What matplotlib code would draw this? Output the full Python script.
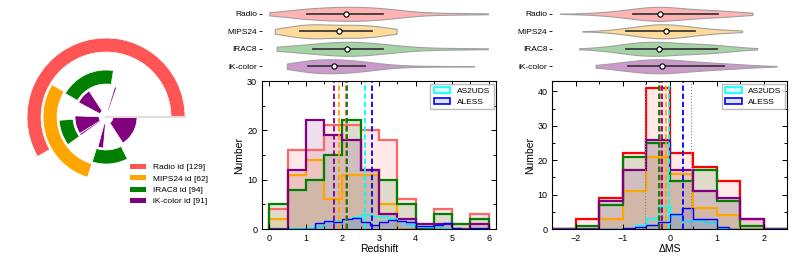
import numpy as np
import matplotlib
matplotlib.use('Agg')
import matplotlib.pyplot as plt
from matplotlib.ticker import MultipleLocator
from matplotlib.patches import Patch

plt.rcParams['font.family'] = ['Liberation Sans', 'DejaVu Sans']

# --- identifications -------------------------------------------------------
methods = ['Radio', 'MIPS24', 'IRAC8', 'iK-color']
n_ids = [129, 62, 94, 91]
line_colors = ['#ff5555', '#ffa500', '#008000', '#800080']
violin_fill = ['#ffb3b3', '#ffdb99', '#a6d3a6', '#cc99cc']

# angular segments (degrees) of each ring in the left diagram
radio_seg = [(0, 210)]
mips_seg = [(149, 253)]
irac_seg = [(81, 150), (184, 216), (253, 297)]
ik_seg = [(71, 73), (123, 152), (178, 212), (213.5, 215.5), (255, 265), (303, 360)]

# --- redshift --------------------------------------------------------------
z_edges = np.arange(0, 6.01, 0.5)
z_radio = [4, 16, 16, 21, 21, 20, 18, 6, 1, 4, 1, 3]
z_mips = [2, 11, 14, 6, 11, 11, 5, 0, 0, 0, 0, 0]
z_irac = [5, 8, 10, 15, 22, 12, 10, 5, 0, 3, 1, 2]
z_ik = [0, 12, 22, 19, 18, 12, 3, 2, 1, 1, 0, 1]

z_fine_edges = np.arange(0, 6.01, 0.25)
z_as2uds = [0.1, 0.1, 0.2, 0.2, 0.4, 0.7, 1.6, 1.8, 2.0, 2.5, 3.1, 2.6,
            2.7, 2.3, 1.7, 1.1, 0.7, 0.5, 0.4, 0.3, 0.2, 0.1, 0.1, 0.1]
z_aless = [0, 0, 0, 0, 0, 1.3, 1.6, 1.5, 2.0, 2.3, 1.5, 0.9,
           1.4, 1.9, 1.6, 1.4, 0.6, 0.6, 0.9, 1.2, 0.3, 0, 0.3, 0.3]

z_median = [2.10, 1.91, 2.12, 1.78]
z_q1 = [1.04, 0.85, 1.19, 1.07]
z_q3 = [3.10, 2.80, 3.10, 2.63]
z_lo = [0.0, 0.15, 0.2, 0.48]
z_hi = [5.98, 3.48, 5.98, 5.6]
z_med_as2uds = 2.61
z_med_aless = 2.82

# --- delta MS --------------------------------------------------------------
ms_edges = np.arange(-2.5, 2.51, 0.5)
ms_radio = [0, 3, 9, 22, 41, 22, 18, 14, 3, 0]
ms_mips = [0, 0, 3, 11, 21, 16, 6, 4, 0, 0]
ms_irac = [0, 1, 7, 21, 25, 14, 17, 8, 1, 0]
ms_ik = [0, 0, 8, 17, 26, 17, 11, 9, 3, 0]

ms_fine_edges = np.arange(-2.5, 2.51, 0.25)
ms_as2uds = [0, 0, 0, 0, 0, 0, 0.2, 1.1, 3.2, 6.6, 4.0, 2.3, 2.5, 1.9, 0.4, 0, 0, 0, 0, 0]
ms_aless = [0, 0, 0, 0, 0, 0, 0.2, 0.6, 1.2, 2.0, 4.3, 6.0, 2.9, 2.9, 0.7, 0, 0, 0, 0, 0]

ms_median = [-0.21, -0.08, -0.22, -0.16]
ms_q1 = [-0.79, -0.93, -0.93, -0.88]
ms_q3 = [1.03, 0.54, 1.00, 1.16]
ms_lo = [-2.34, -1.86, -1.93, -1.58]
ms_hi = [1.76, 1.54, 1.86, 2.27]
ms_med_as2uds = -0.02
ms_med_aless = 0.28
ms_dotted = [-0.52, 0.46]


def kde(edges, counts, lo, hi):
    centers = 0.5 * (edges[1:] + edges[:-1])
    w = np.asarray(counts, float)
    n = w.sum()
    mean = (w * centers).sum() / n
    std = np.sqrt((w * (centers - mean) ** 2).sum() / n)
    bw = 1.4 * std * n ** (-0.2)
    grid = np.linspace(lo, hi, 300)
    d = (w[:, None] * np.exp(-0.5 * ((grid[None, :] - centers[:, None]) / bw) ** 2)).sum(0)
    return grid, d / d.max()


def violins(ax, edges, hists, lo, hi, med, q1, q3, xlim):
    for i, h in enumerate(hists):
        g, d = kde(edges, h, lo[i], hi[i])
        ax.fill_between(g, i - 0.4 * d, i + 0.4 * d, facecolor=violin_fill[i],
                        edgecolor='#a0a0a0', lw=0.8)
        ax.plot([q1[i], q3[i]], [i, i], color='#3a3a3a', lw=1.3)
        ax.scatter([med[i]], [i], s=14, facecolor='white', edgecolor='black',
                   lw=0.8, zorder=3)
    ax.set_xlim(*xlim)
    ax.set_ylim(3.5, -0.5)
    ax.set_yticks(range(4))
    ax.set_yticklabels(methods, fontsize=6)
    ax.set_xticks([])
    ax.tick_params(axis='y', length=2, width=0.6, pad=1.5)
    for s in ax.spines.values():
        s.set_visible(False)


def hists(ax, edges, hs, fine_edges, as2, ale, meds, med_as2, med_ale, edge_cols):
    for h, c in zip(hs, line_colors):
        ax.stairs(h, edges, fill=True, color=c, alpha=0.13, lw=0)
    for h, c in zip(hs, edge_cols):
        ax.stairs(h, edges, color=c, lw=1.6)
    ax.stairs(as2, fine_edges, fill=True, color='cyan', alpha=0.12, lw=0)
    ax.stairs(as2, fine_edges, color='cyan', lw=1.0)
    ax.stairs(ale, fine_edges, fill=True, color='blue', alpha=0.1, lw=0)
    ax.stairs(ale, fine_edges, color='blue', lw=1.0)
    for m, c in zip(meds, line_colors):
        ax.axvline(m, color=c, ls='--', lw=1.3, dashes=(3, 1.5))
    ax.axvline(med_as2, color='cyan', ls='--', lw=1.3, dashes=(3, 1.5))
    ax.axvline(med_ale, color='blue', ls='--', lw=1.3, dashes=(3, 1.5))
    ax.tick_params(which='both', direction='in', top=True, right=True,
                   labelsize=6.5, width=0.7)
    ax.tick_params(which='major', length=3.5)
    ax.tick_params(which='minor', length=2)
    ax.set_ylabel('Number', fontsize=7.5, labelpad=2)
    handles = [Patch(facecolor=(0, 1, 1, 0.15), edgecolor='cyan', lw=1.2, label='AS2UDS'),
               Patch(facecolor=(0, 0, 1, 0.12), edgecolor='blue', lw=1.2, label='ALESS')]
    ax.legend(handles=handles, loc='upper right', fontsize=6, fancybox=False,
              edgecolor='#aaaaaa', handlelength=2.0, borderpad=0.4,
              labelspacing=0.4, borderaxespad=0.3)
    for s in ax.spines.values():
        s.set_linewidth(0.8)


fig = plt.figure(figsize=(7.93, 2.61), dpi=100)

# left: ring diagram
axp = fig.add_axes([0.0328, 0.2452, 0.2018, 0.613], projection='polar')
rings = [(radio_seg, 65, 79), (mips_seg, 49, 63), (irac_seg, 33, 47), (ik_seg, 7, 31)]
for (segs, r0, r1), c in zip(rings, line_colors):
    for a, b in segs:
        thin = (b - a) < 5
        axp.bar(np.deg2rad((a + b) / 2), r1 - r0, width=np.deg2rad(b - a), bottom=r0,
                color=c, edgecolor='none' if thin else 'white', lw=0.5)
axp.plot([0, 0], [0, 79], color='#e6dada', lw=1.5)
axp.set_ylim(0, 80)
axp.axis('off')

fig.legend(handles=[Patch(facecolor=c, label=f'{m} id [{n}]')
                    for m, n, c in zip(methods, n_ids, line_colors)],
           loc='upper left', bbox_to_anchor=(0.160, 0.385), frameon=False,
           fontsize=6, handlelength=1.9, handleheight=0.6, labelspacing=0.45,
           handletextpad=0.8, borderaxespad=0)

# middle: redshift
axv1 = fig.add_axes([0.3304, 0.7126, 0.2951, 0.268])
violins(axv1, z_edges, [z_radio, z_mips, z_irac, z_ik], z_lo, z_hi,
        z_median, z_q1, z_q3, (-0.2, 6.2))
axh1 = fig.add_axes([0.3304, 0.1226, 0.2951, 0.567])
hists(axh1, z_edges, [z_radio, z_mips, z_irac, z_ik], z_fine_edges,
      z_as2uds, z_aless, z_median, z_med_as2uds, z_med_aless,
      ['#ff6666', '#ffa500', '#008000', '#800080'])
axh1.set_xlim(-0.2, 6.2)
axh1.set_ylim(0, 30)
axh1.xaxis.set_major_locator(MultipleLocator(1))
axh1.xaxis.set_minor_locator(MultipleLocator(0.5))
axh1.yaxis.set_major_locator(MultipleLocator(10))
axh1.yaxis.set_minor_locator(MultipleLocator(5))
axh1.set_xlabel('Redshift', fontsize=7.5, labelpad=1)

# right: delta MS
axv2 = fig.add_axes([0.6965, 0.7126, 0.2963, 0.268])
violins(axv2, ms_edges, [ms_radio, ms_mips, ms_irac, ms_ik], ms_lo, ms_hi,
        ms_median, ms_q1, ms_q3, (-2.5, 2.5))
axh2 = fig.add_axes([0.6965, 0.1226, 0.2963, 0.567])
for x in ms_dotted:
    axh2.axvline(x, color='#888888', ls=':', lw=0.8)
hists(axh2, ms_edges, [ms_radio, ms_mips, ms_irac, ms_ik], ms_fine_edges,
      ms_as2uds, ms_aless, ms_median, ms_med_as2uds, ms_med_aless,
      ['red', '#ffa500', '#008000', '#800080'])
axh2.set_xlim(-2.5, 2.5)
axh2.set_ylim(0, 43)
axh2.xaxis.set_major_locator(MultipleLocator(1))
axh2.xaxis.set_minor_locator(MultipleLocator(0.5))
axh2.yaxis.set_major_locator(MultipleLocator(10))
axh2.yaxis.set_minor_locator(MultipleLocator(5))
axh2.set_xlabel('ΔMS', fontsize=7.5, labelpad=1)

fig.savefig('out.png', dpi=100)
